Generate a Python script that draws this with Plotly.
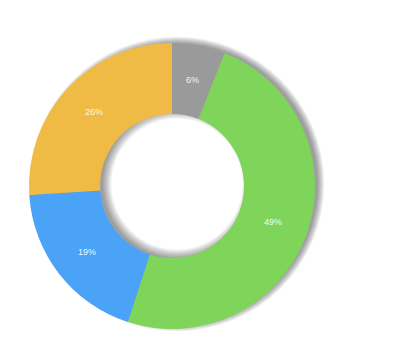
import math
import plotly.graph_objects as go

labels = ["Gray", "Green", "Blue", "Yellow"]
values = [6, 49, 19, 26]
colors = ["#9a9a9a", "#7fd45a", "#4aa3f7", "#f0bb44"]

W, H = 400, 364
CX, CY = 172, 186       # pie centre in pixels (from top-left)
R_OUT, R_IN = 143, 72   # outer / inner radius in pixels


def domain(cx, cy, r):
    return dict(x=[(cx - r) / W, (cx + r) / W],
                y=[(H - (cy + r)) / H, (H - (cy - r)) / H])


fig = go.Figure()

# soft drop shadow (several translucent rings, offset right and slightly up)
for k in range(8):
    ro = R_OUT - 2 + k * 0.9
    ri = R_IN + 2 - k * 1.2
    fig.add_trace(go.Pie(
        values=[1], labels=["s"], hole=ri / ro, sort=False,
        marker=dict(colors=["rgba(0,0,0,0.055)"], line=dict(width=0)),
        textinfo="none", hoverinfo="skip", showlegend=False,
        domain=domain(CX + 5, CY - 2, ro)))

fig.add_trace(go.Pie(
    labels=labels, values=values, hole=R_IN / R_OUT, sort=False,
    direction="clockwise", rotation=0,
    marker=dict(colors=colors, line=dict(width=0)),
    textinfo="none", showlegend=False,
    domain=domain(CX, CY, R_OUT)))

# percentage labels at the middle of each slice (mid angle, mid radius)
total = sum(values)
r_mid = (R_OUT + R_IN) / 2
acc = 0
for v in values:
    ang = 2 * math.pi * (acc + v / 2) / total
    acc += v
    px = CX + r_mid * math.sin(ang)
    py = CY - r_mid * math.cos(ang)
    fig.add_annotation(x=px / W, y=1 - py / H, xref="paper", yref="paper",
                       xanchor="center", yanchor="middle",
                       text=f"{round(100 * v / total)}%", showarrow=False,
                       font=dict(color="rgba(255,255,255,0.92)", size=9,
                                 family="Liberation Sans, Arial, sans-serif"))

fig.update_layout(width=W, height=H, margin=dict(l=0, r=0, t=0, b=0),
                  paper_bgcolor="white", plot_bgcolor="white")

fig.write_html("out.html")
